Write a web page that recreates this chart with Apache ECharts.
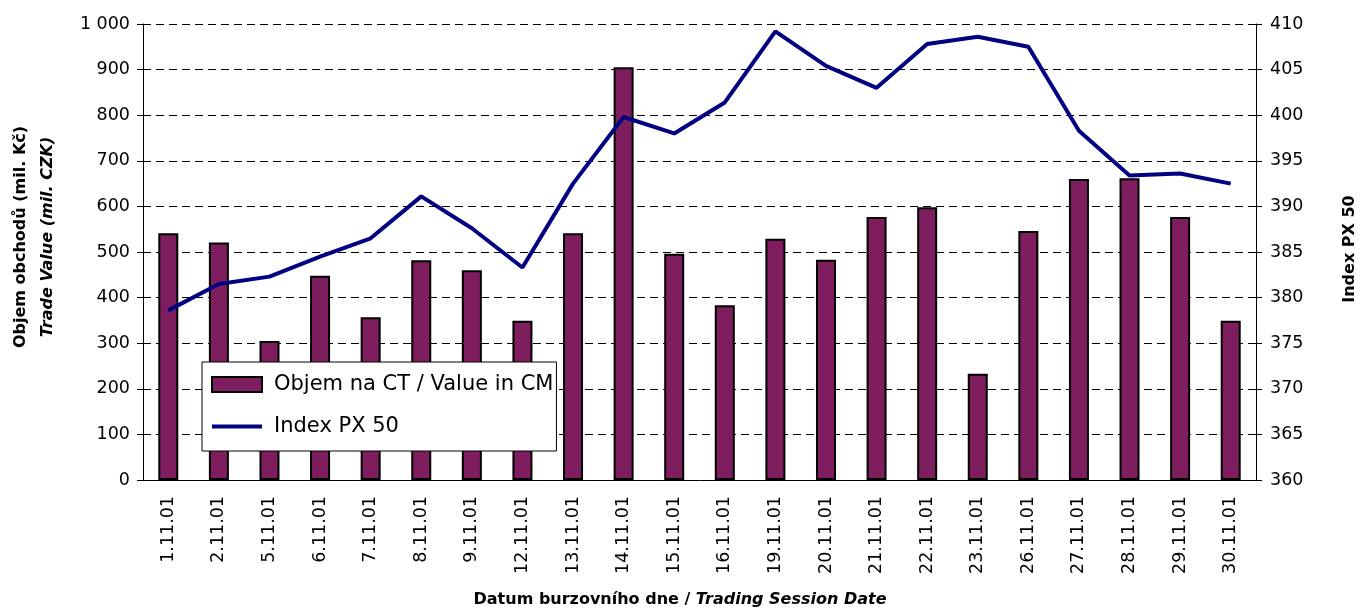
<!DOCTYPE html>
<html>
<head>
<meta charset="utf-8">
<script src="https://cdn.jsdelivr.net/npm/echarts@6/dist/echarts.min.js"></script>
<style>
  html, body { margin: 0; padding: 0; background: #fff; }
  #chart { width: 1361px; height: 615px; }
</style>
</head>
<body>
<div id="chart"></div>
<script>
// data
const days = ['1.11.01', '2.11.01', '5.11.01', '6.11.01', '7.11.01', '8.11.01', '9.11.01', '12.11.01',
  '13.11.01', '14.11.01', '15.11.01', '16.11.01', '19.11.01', '20.11.01', '21.11.01', '22.11.01',
  '23.11.01', '26.11.01', '27.11.01', '28.11.01', '29.11.01', '30.11.01']
const tradeValue = [541, 521, 305, 448, 357, 482, 460, 349, 541, 905, 496,
  383, 529, 483, 577, 598, 233, 546, 660, 662, 577, 349]
const px50 = [378.6, 381.5, 382.3, 384.5, 386.5, 391.1, 387.6, 383.3, 392.5, 399.8, 398.0,
  401.4, 409.2, 405.4, 403.0, 407.8, 408.6, 407.5, 398.3, 393.4, 393.6, 392.5]

const font = '"DejaVu Sans", sans-serif'
const chart = echarts.init(document.getElementById('chart'))

// legend line icon: 4px bar inside a 50x15 box
const lineIcon = 'path://M0,0L0.01,0M0,15L0.01,15M0,5.5L50,5.5L50,9.5L0,9.5Z'

const option = {
  animation: false,
  textStyle: { fontFamily: font },
  grid: { left: 143, right: 105, top: 24, bottom: 135 },
  legend: {
    orient: 'vertical',
    left: 202,
    top: 362,
    padding: [12, 3, 14, 9],
    itemGap: 21,
    itemWidth: 50,
    itemHeight: 15,
    backgroundColor: '#fff',
    borderColor: '#000',
    borderWidth: 1,
    borderRadius: 0,
    textStyle: { fontSize: 21, color: '#000', fontFamily: font, padding: [0, 0, 0, 7] },
    data: [
      { name: 'Objem na CT / Value in CM', icon: 'rect' },
      { name: 'Index PX 50', icon: lineIcon }
    ]
  },
  xAxis: {
    type: 'category',
    data: days,
    axisLine: { lineStyle: { color: '#000', width: 1 } },
    axisTick: { length: 6, lineStyle: { color: '#000' } },
    axisLabel: { rotate: 90, fontSize: 17.5, color: '#000', margin: 16, fontFamily: font }
  },
  yAxis: [
    {
      type: 'value',
      min: 0,
      max: 1000,
      interval: 100,
      axisLine: { show: true, lineStyle: { color: '#000' } },
      axisTick: { show: true, length: 6, lineStyle: { color: '#000' } },
      axisLabel: {
        fontSize: 17.5, color: '#000', margin: 13, fontFamily: font,
        formatter: v => v >= 1000 ? String(v).replace(/\B(?=(\d{3})+$)/g, ' ') : v
      },
      splitLine: { lineStyle: { color: '#000', type: [8, 5], width: 1 } }
    },
    {
      type: 'value',
      min: 360,
      max: 410,
      interval: 5,
      axisLine: { show: true, lineStyle: { color: '#000' } },
      axisTick: { show: true, length: 6, lineStyle: { color: '#000' } },
      axisLabel: { fontSize: 17.5, color: '#000', margin: 14, fontFamily: font },
      splitLine: { show: false }
    }
  ],
  graphic: [
    {
      type: 'text',
      x: 34, y: 237, rotation: Math.PI / 2,
      style: {
        text: '{a|Objem obchodů (mil. Kč)}\n{b|Trade Value (mil. CZK)}',
        align: 'center', verticalAlign: 'middle',
        rich: {
          a: { fontSize: 16, fontWeight: 'bold', fontFamily: font, fill: '#000', lineHeight: 27 },
          b: { fontSize: 16, fontWeight: 'bold', fontStyle: 'italic', fontFamily: font, fill: '#000', lineHeight: 27 }
        }
      }
    },
    {
      type: 'text',
      x: 1350, y: 249, rotation: Math.PI / 2,
      style: {
        text: 'Index PX 50',
        align: 'center', verticalAlign: 'middle',
        fontSize: 16, fontWeight: 'bold', fontFamily: font, fill: '#000'
      }
    },
    {
      type: 'text',
      x: 680, y: 600,
      style: {
        text: '{a|Datum burzovního dne / }{b|Trading Session Date}',
        align: 'center', verticalAlign: 'middle',
        rich: {
          a: { fontSize: 16, fontWeight: 'bold', fontFamily: font, fill: '#000' },
          b: { fontSize: 16, fontWeight: 'bold', fontStyle: 'italic', fontFamily: font, fill: '#000' }
        }
      }
    }
  ],
  series: [
    {
      name: 'Objem na CT / Value in CM',
      type: 'bar',
      data: tradeValue,
      barWidth: 20,
      itemStyle: { color: '#7e1e5e', borderColor: '#000', borderWidth: 2 }
    },
    {
      name: 'Index PX 50',
      type: 'line',
      yAxisIndex: 1,
      data: px50,
      symbol: 'none',
      lineStyle: { color: '#000080', width: 4 },
      itemStyle: { color: '#000080' }
    }
  ]
}

chart.setOption(option)
window.onresize = () => { chart.resize() }
</script>
</body>
</html>
